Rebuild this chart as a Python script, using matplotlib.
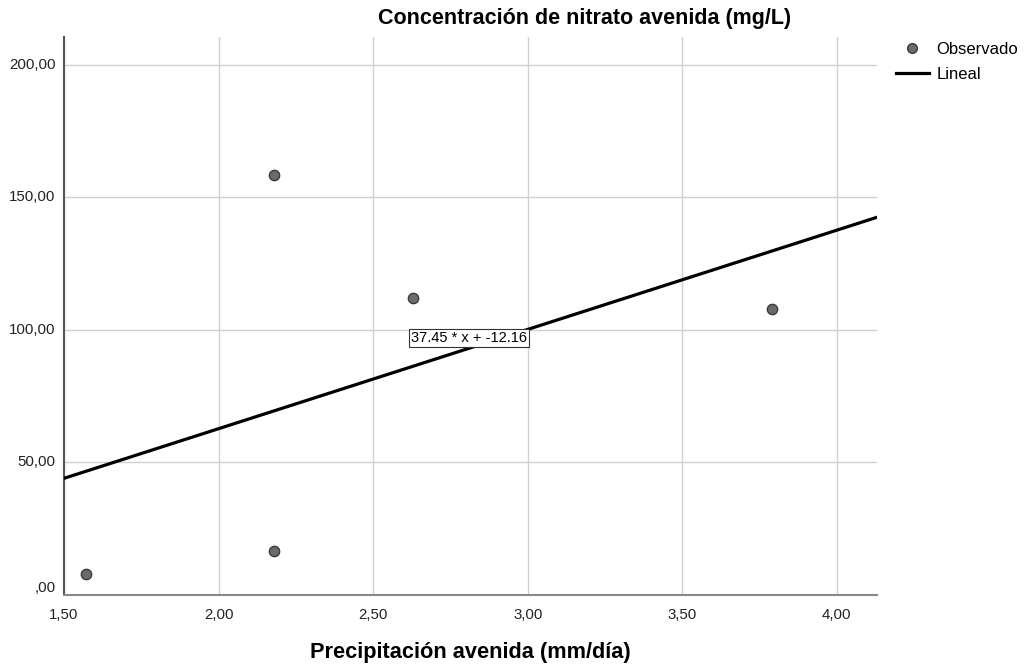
import matplotlib.pyplot as plt
import numpy as np
from matplotlib.ticker import FuncFormatter
from matplotlib.lines import Line2D

plt.rcParams['font.family'] = ['Liberation Sans', 'DejaVu Sans']

# Datos observados
precip = [1.57, 2.18, 2.18, 2.63, 3.79]
nitrato = [8.0, 16.5, 158.5, 112.0, 108.0]

# Ajuste lineal
pendiente = 37.45
intercepto = -12.16

xticks = [1.5, 2.0, 2.5, 3.0, 3.5, 4.0]
yticks = [0, 50, 100, 150, 200]

fig = plt.figure(figsize=(10.27, 6.66), dpi=100)
ax = fig.add_axes([0.0623, 0.1066, 0.7917, 0.8378])

ax.set_xlim(1.5, 4.13)
ax.set_ylim(0, 210.5)

ax.set_xticks(xticks)
ax.set_yticks(yticks)
ax.grid(True, color='#d0d0d0', linewidth=1)
ax.set_axisbelow(True)

def coma(v, pos):
    s = '%.2f' % v
    s = s.replace('.', ',')
    if s.startswith('0,'):
        s = s[1:]
    return s

ax.xaxis.set_major_formatter(FuncFormatter(coma))
ax.yaxis.set_major_formatter(FuncFormatter(coma))
ax.tick_params(length=0, labelsize=10.8, colors='#222222')
ax.tick_params(axis='x', pad=9)
ax.tick_params(axis='y', pad=6)
for lab in ax.get_yticklabels():
    lab.set_verticalalignment('center')
ax.get_yticklabels()[0].set_verticalalignment('bottom')
ax.get_yticklabels()[0].set_y(-0.02)

for s in ['top', 'right']:
    ax.spines[s].set_visible(False)
ax.spines['left'].set_color('#555555')
ax.spines['left'].set_linewidth(1.5)
ax.spines['bottom'].set_color('#888888')
ax.spines['bottom'].set_linewidth(1.5)

# linea ajustada
xs = np.array(ax.get_xlim())
ax.plot(xs, pendiente * xs + intercepto, color='black', linewidth=2.3, zorder=3)

ax.scatter(precip, nitrato, s=55, color='#6b6b6b', edgecolor='#3a3a3a',
           linewidth=1, zorder=4)

ax.text(2.81, 97, '%.2f * x + %.2f' % (pendiente, intercepto), fontsize=10.5,
        ha='center', va='center', zorder=5,
        bbox=dict(boxstyle='square,pad=0.12', facecolor='white',
                  edgecolor='#333333', linewidth=0.8))

fig.text(0.569, 0.972, 'Concentración de nitrato avenida (mg/L)',
         ha='center', va='center', fontsize=15.5, fontweight='bold')
fig.text(0.458, 0.021, 'Precipitación avenida (mm/día)',
         ha='center', va='center', fontsize=15.7, fontweight='bold')

handles = [
    Line2D([], [], marker='o', linestyle='none', markersize=7,
           markerfacecolor='#6b6b6b', markeredgecolor='#3a3a3a'),
    Line2D([], [], color='black', linewidth=2.3),
]
fig.legend(handles, ['Observado', 'Lineal'], loc='upper left',
           bbox_to_anchor=(0.872, 0.937), frameon=False, fontsize=12,
           handlelength=2.0, handletextpad=0.45, labelspacing=0.6,
           borderaxespad=0, borderpad=0)

fig.savefig('out.png', dpi=100)
